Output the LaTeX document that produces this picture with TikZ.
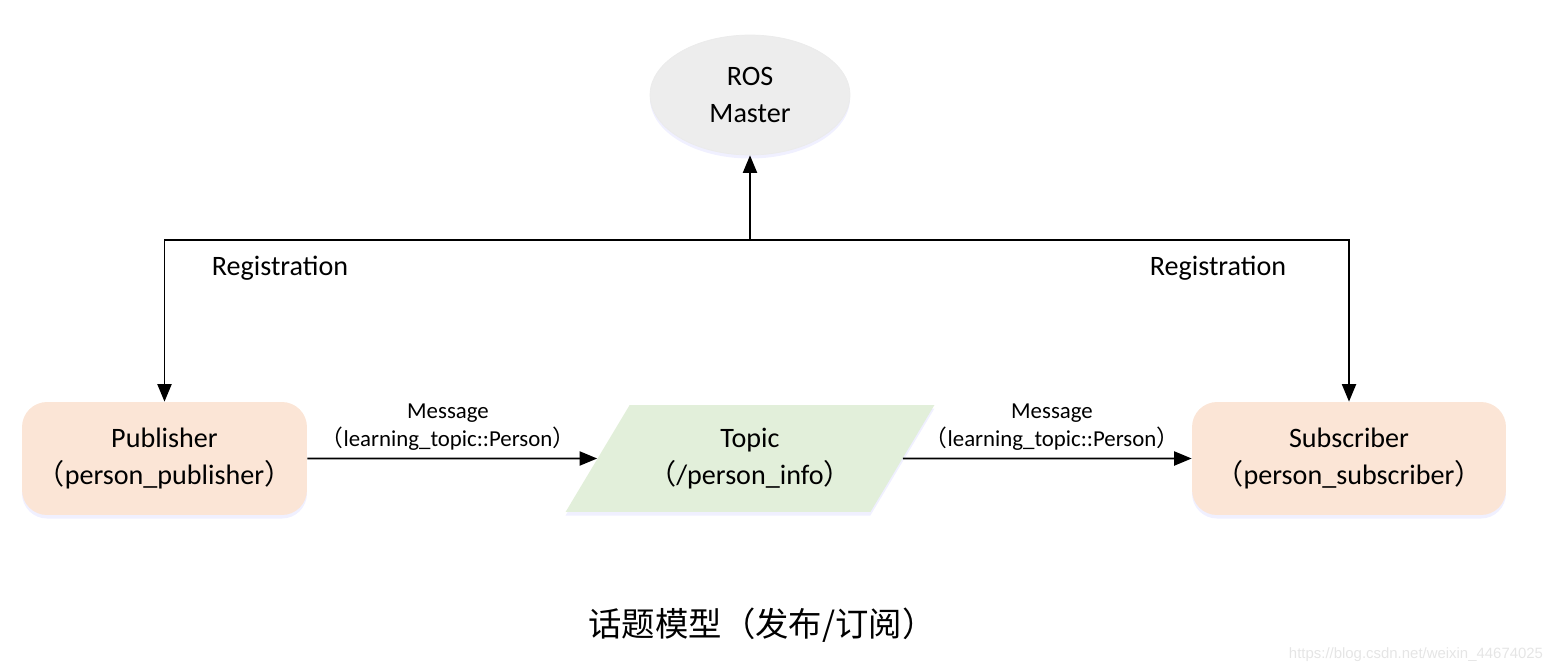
\documentclass[tikz,border=0pt]{standalone}
\usepackage{fontspec}
\setmainfont{Carlito}
\newfontfamily\cjk{Noto Sans CJK SC}
\newfontfamily\urlfont{Liberation Sans}
\usetikzlibrary{arrows.meta,shapes.geometric,shadows}
\definecolor{peach}{HTML}{FBE5D6}
\definecolor{leaf}{HTML}{E2EFDA}
\definecolor{mastergray}{HTML}{EDEDED}
\newcommand{\fwl}{{\cjk （}}
\newcommand{\fwr}{{\cjk ）}}
\tikzset{
  softshadow/.style={drop shadow={shadow xshift=0pt,shadow yshift=-2pt,opacity=0.3,fill=blue!20}},
  nodebox/.style={rounded corners=0.5cm,fill=peach,softshadow,align=center,
    font=\fontsize{16}{21.5}\selectfont,minimum height=2.26cm},
  arr/.style={line width=1.1pt,-{Triangle[length=10pt,width=8pt]}},
  lbl/.style={font=\fontsize{16}{19}\selectfont},
  msg/.style={font=\fontsize{13}{16}\selectfont,align=center}
}
\begin{document}
\begin{tikzpicture}[x=0.02cm,y=-0.02cm]
  \useasboundingbox (0,0) rectangle (1557,672);
  \node[ellipse,fill=mastergray,draw=black!8,softshadow,minimum width=4cm,
    minimum height=2.4cm,align=center,font=\fontsize{16}{21.5}\selectfont]
    (master) at (750,95) {ROS\\Master};
  \node[nodebox,minimum width=5.7cm] (pub) at (164.5,458.5)
    {Publisher\\\fwl person\_publisher\fwr};
  \node[nodebox,minimum width=6.28cm] (sub) at (1349,458.5)
    {Subscriber\\\fwl person\_subscriber\fwr};
  \node[trapezium,trapezium left angle=52,trapezium right angle=128,
    trapezium stretches=true,minimum width=7.4cm,minimum height=2.14cm,
    fill=leaf,softshadow,align=center,font=\fontsize{16}{21.5}\selectfont]
    (topic) at (750,458.5) {Topic\\\fwl/person\_info\fwr};
  \coordinate (junc) at (750,240);
  \draw[arr] (junc) -- (master);
  \draw[arr] (junc) -| (pub);
  \draw[arr] (junc) -| (sub);
  \node[lbl] (regpub) at (280,268) {Registration};
  \node[lbl] (regsub) at (1218,268) {Registration};
  \draw[arr] (pub) -- (topic);
  \draw[arr] (topic) -- (sub);
  \node[msg] (msgpub) at (448,427) {Message\\\fwl learning\_topic::Person\fwr};
  \node[msg] (msgsub) at (1052,427) {Message\\\fwl learning\_topic::Person\fwr};
  \node[font=\cjk\fontsize{19}{22}\selectfont] (caption) at (762,625)
    {话题模型（发布/订阅）};
  \node[font=\urlfont\fontsize{8.5}{10}\selectfont,text=black!10]
    (mark) at (1416,655) {https://blog.csdn.net/weixin\_44674025};
\end{tikzpicture}
\end{document}
